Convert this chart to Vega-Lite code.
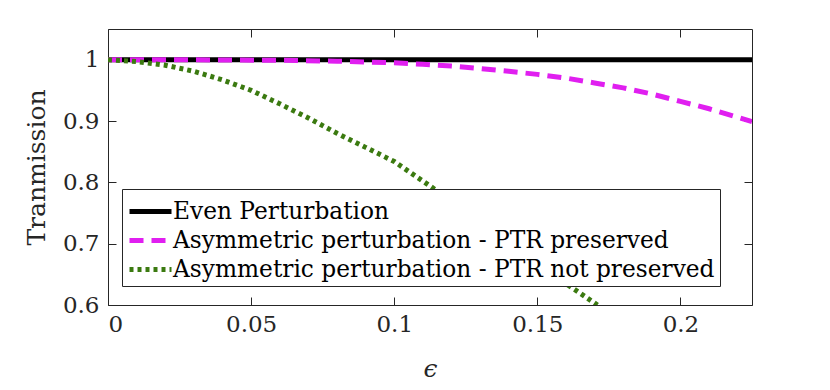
{
  "$schema": "https://vega.github.io/schema/vega-lite/v6.json",
  "width": 644,
  "height": 276,
  "autosize": {"type": "none"},
  "padding": {"left": 108, "top": 29, "right": 78, "bottom": 85},
  "background": "white",
  "config": {
    "view": {"stroke": "#262626", "strokeWidth": 1},
    "font": "DejaVu Serif",
    "axis": {"grid": false, "labelFont": "DejaVu Serif", "titleFont": "DejaVu Serif", "labelColor": "#262626", "titleColor": "#262626", "domain": false, "tickColor": "#262626", "tickWidth": 1, "labelFontSize": 23, "titleFontWeight": "normal"}
  },
  "datasets": {
    "curves": [
      {"eps": 0, "T": 1, "series": "Even Perturbation"},
      {"eps": 0.225, "T": 1, "series": "Even Perturbation"},
      {"eps": 0, "T": 1, "series": "Asymmetric perturbation - PTR preserved"},
      {"eps": 0.02, "T": 1, "series": "Asymmetric perturbation - PTR preserved"},
      {"eps": 0.04, "T": 0.9995, "series": "Asymmetric perturbation - PTR preserved"},
      {"eps": 0.06, "T": 0.999, "series": "Asymmetric perturbation - PTR preserved"},
      {"eps": 0.08, "T": 0.9975, "series": "Asymmetric perturbation - PTR preserved"},
      {"eps": 0.1, "T": 0.995, "series": "Asymmetric perturbation - PTR preserved"},
      {"eps": 0.11, "T": 0.9925, "series": "Asymmetric perturbation - PTR preserved"},
      {"eps": 0.12, "T": 0.9895, "series": "Asymmetric perturbation - PTR preserved"},
      {"eps": 0.13, "T": 0.9855, "series": "Asymmetric perturbation - PTR preserved"},
      {"eps": 0.14, "T": 0.981, "series": "Asymmetric perturbation - PTR preserved"},
      {"eps": 0.15, "T": 0.976, "series": "Asymmetric perturbation - PTR preserved"},
      {"eps": 0.16, "T": 0.97, "series": "Asymmetric perturbation - PTR preserved"},
      {"eps": 0.17, "T": 0.962, "series": "Asymmetric perturbation - PTR preserved"},
      {"eps": 0.18, "T": 0.954, "series": "Asymmetric perturbation - PTR preserved"},
      {"eps": 0.19, "T": 0.944, "series": "Asymmetric perturbation - PTR preserved"},
      {"eps": 0.2, "T": 0.932, "series": "Asymmetric perturbation - PTR preserved"},
      {"eps": 0.21, "T": 0.92, "series": "Asymmetric perturbation - PTR preserved"},
      {"eps": 0.22, "T": 0.906, "series": "Asymmetric perturbation - PTR preserved"},
      {"eps": 0.225, "T": 0.899, "series": "Asymmetric perturbation - PTR preserved"},
      {"eps": 0, "T": 1, "series": "Asymmetric perturbation - PTR not preserved"},
      {"eps": 0.01, "T": 0.997, "series": "Asymmetric perturbation - PTR not preserved"},
      {"eps": 0.02, "T": 0.991, "series": "Asymmetric perturbation - PTR not preserved"},
      {"eps": 0.03, "T": 0.981, "series": "Asymmetric perturbation - PTR not preserved"},
      {"eps": 0.04, "T": 0.967, "series": "Asymmetric perturbation - PTR not preserved"},
      {"eps": 0.05, "T": 0.95, "series": "Asymmetric perturbation - PTR not preserved"},
      {"eps": 0.06, "T": 0.928, "series": "Asymmetric perturbation - PTR not preserved"},
      {"eps": 0.07, "T": 0.905, "series": "Asymmetric perturbation - PTR not preserved"},
      {"eps": 0.08, "T": 0.88, "series": "Asymmetric perturbation - PTR not preserved"},
      {"eps": 0.09, "T": 0.857, "series": "Asymmetric perturbation - PTR not preserved"},
      {"eps": 0.1, "T": 0.834, "series": "Asymmetric perturbation - PTR not preserved"},
      {"eps": 0.11, "T": 0.802, "series": "Asymmetric perturbation - PTR not preserved"},
      {"eps": 0.12, "T": 0.77, "series": "Asymmetric perturbation - PTR not preserved"},
      {"eps": 0.13, "T": 0.737, "series": "Asymmetric perturbation - PTR not preserved"},
      {"eps": 0.14, "T": 0.703, "series": "Asymmetric perturbation - PTR not preserved"},
      {"eps": 0.15, "T": 0.669, "series": "Asymmetric perturbation - PTR not preserved"},
      {"eps": 0.16, "T": 0.635, "series": "Asymmetric perturbation - PTR not preserved"},
      {"eps": 0.171, "T": 0.6, "series": "Asymmetric perturbation - PTR not preserved"}
    ]
  },
  "data": {"name": "curves"},
  "encoding": {
    "color": {
      "field": "series", "type": "nominal",
      "scale": {"domain": ["Even Perturbation", "Asymmetric perturbation - PTR preserved", "Asymmetric perturbation - PTR not preserved"], "range": ["#000000", "#e01ff0", "#3b7a10"]},
      "legend": {"orient": "none", "legendX": 14, "legendY": 160, "title": null, "symbolType": "M-1.4,0H1.4", "symbolSize": 900, "symbolStrokeWidth": 5, "symbolFillColor": "transparent", "symbolOffset": 6, "labelFontSize": 23.3, "labelFont": "DejaVu Serif", "labelColor": "#000000", "strokeColor": "#262626", "fillColor": "white", "padding": 5, "rowPadding": 0, "labelLimit": 1000, "labelOffset": 5}
    },
    "strokeDash": {
      "field": "series", "type": "nominal",
      "scale": {"domain": ["Even Perturbation", "Asymmetric perturbation - PTR preserved", "Asymmetric perturbation - PTR not preserved"], "range": [[1, 0], [14, 8], [4, 4]]},
      "legend": {"orient": "none", "legendX": 14, "legendY": 160, "title": null, "symbolType": "M-1.4,0H1.4", "symbolSize": 900, "symbolStrokeWidth": 5, "symbolFillColor": "transparent", "symbolOffset": 6, "labelFontSize": 23.3, "labelFont": "DejaVu Serif", "labelColor": "#000000", "strokeColor": "#262626", "fillColor": "white", "padding": 5, "rowPadding": 0, "labelLimit": 1000, "labelOffset": 5}
    }
  },
  "layer": [
    {
      "transform": [{"filter": "datum.series === 'Even Perturbation'"}],
      "mark": {"type": "line", "strokeWidth": 5, "clip": true},
      "encoding": {
        "x": {"field": "eps", "type": "quantitative", "scale": {"domain": [0, 0.225], "nice": false, "zero": false},
              "axis": {"orient": "bottom", "values": [0, 0.05, 0.1, 0.15, 0.2], "format": "~g", "ticks": false, "tickSize": 0, "labelPadding": 8, "title": "ϵ", "titleFontSize": 25, "titleFontStyle": "italic", "titlePadding": 20}},
        "y": {"field": "T", "type": "quantitative", "scale": {"domain": [0.6, 1.05], "nice": false, "zero": false},
              "axis": {"orient": "left", "values": [0.6, 0.7, 0.8, 0.9, 1], "format": "~g", "ticks": false, "tickSize": 0, "labelPadding": 9, "title": "Tranmission", "titleFontSize": 25, "titlePadding": 13}}
      }
    },
    {
      "transform": [{"filter": "datum.series === 'Asymmetric perturbation - PTR preserved'"}],
      "mark": {"type": "line", "strokeWidth": 5, "clip": true},
      "encoding": {
        "x": {"field": "eps", "type": "quantitative", "axis": {"orient": "bottom", "values": [0, 0.05, 0.1, 0.15, 0.2], "labels": false, "ticks": true, "title": null, "tickSize": 8, "offset": -8}},
        "y": {"field": "T", "type": "quantitative", "axis": {"orient": "left", "values": [0.6, 0.7, 0.8, 0.9, 1], "labels": false, "ticks": true, "title": null, "tickSize": 8, "offset": -8}}
      }
    },
    {
      "transform": [{"filter": "datum.series === 'Asymmetric perturbation - PTR not preserved'"}],
      "mark": {"type": "line", "strokeWidth": 5, "clip": true},
      "encoding": {
        "x": {"field": "eps", "type": "quantitative", "axis": {"orient": "top", "values": [0, 0.05, 0.1, 0.15, 0.2], "labels": false, "ticks": true, "title": null, "tickSize": 8, "offset": -8}},
        "y": {"field": "T", "type": "quantitative", "axis": {"orient": "right", "values": [0.6, 0.7, 0.8, 0.9, 1], "labels": false, "ticks": true, "title": null, "tickSize": 8, "offset": -8}}
      }
    }
  ],
  "resolve": {"axis": {"x": "independent", "y": "independent"}}
}
